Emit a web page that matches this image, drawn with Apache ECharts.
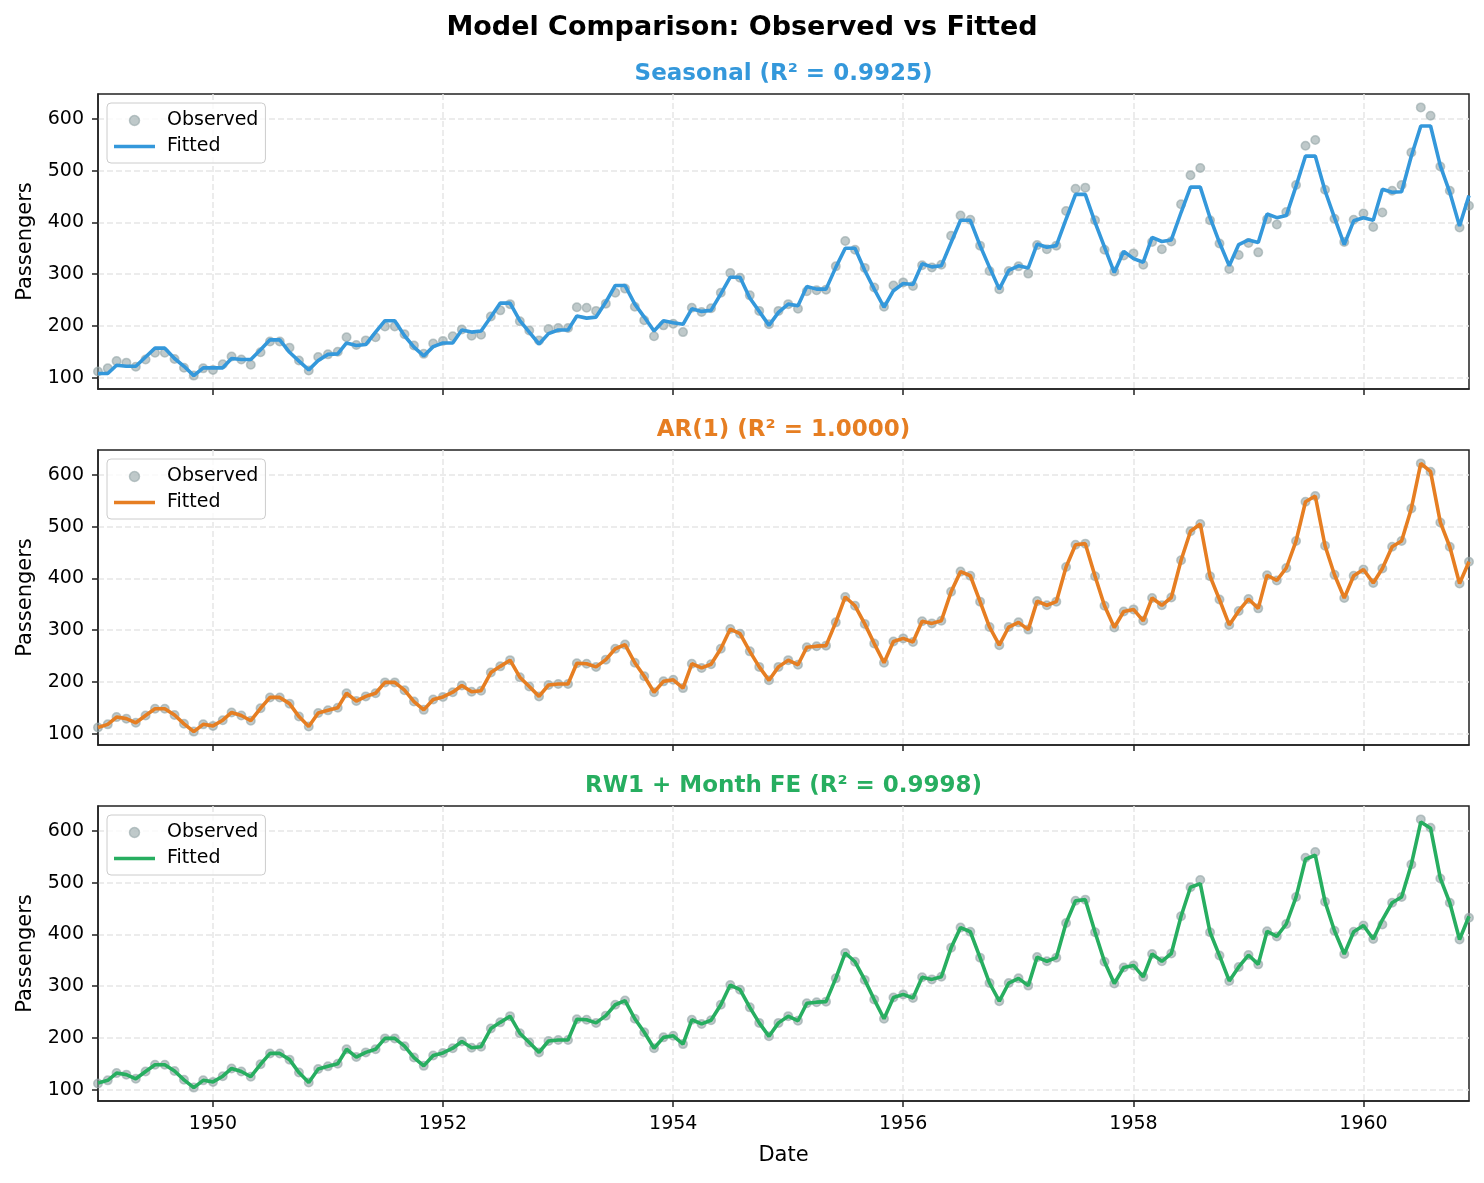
<!DOCTYPE html>
<html><head><meta charset="utf-8">
<script src="https://cdn.jsdelivr.net/npm/echarts@6/dist/echarts.min.js"></script>
<style>html,body{margin:0;padding:0;background:#fff}#c{width:1484px;height:1183px}</style>
</head><body><div id="c"></div>
<script>
const startYear = 1949;
const observed = [
112,118,132,129,121,135,148,148,136,119,104,118,
115,126,141,135,125,149,170,170,158,133,114,140,
145,150,178,163,172,178,199,199,184,162,146,166,
171,180,193,181,183,218,230,242,209,191,172,194,
196,196,236,235,229,243,264,272,237,211,180,201,
204,188,235,227,234,264,302,293,259,229,203,229,
242,233,267,269,270,315,364,347,312,274,237,278,
284,277,317,313,318,374,413,405,355,306,271,306,
315,301,356,348,355,422,465,467,404,347,305,336,
340,318,362,348,363,435,491,505,404,359,310,337,
360,342,406,396,420,472,548,559,463,407,362,405,
417,391,419,461,472,535,622,606,508,461,390,432];
const seasonalFitted = [
108,108,124,122,122,140,157,157,137,122,104,119,
119,119,137,135,135,154,173,173,149,132,115,133,
145,146,167,162,164,188,210,210,181,159,142,160,
167,167,192,188,190,217,244,244,210,188,165,185,
192,192,219,215,217,246,278,278,242,217,190,210,
206,203,233,228,230,262,294,294,254,228,201,226,
242,239,276,271,271,313,350,350,307,271,236,268,
282,280,320,314,316,361,404,404,355,313,271,307,
316,312,358,352,355,406,454,454,400,352,303,344,
330,323,371,363,366,419,468,468,409,361,316,357,
366,361,416,409,413,470,528,528,461,409,357,403,
409,404,464,458,459,528,586,586,509,458,393,452];
const ar1Fitted = [
112,118,132,129,121,135,148,148,136,119,104,118,
115,126,141,135,125,149,170,170,158,133,114,140,
145,150,178,163,172,178,199,199,184,162,146,166,
171,180,193,181,183,218,230,242,209,191,172,194,
196,196,236,235,229,243,264,272,237,211,180,201,
204,188,235,227,234,264,302,293,259,229,203,229,
242,233,267,269,270,315,364,347,312,274,237,278,
284,277,317,313,318,374,413,405,355,306,271,306,
315,301,356,348,355,422,465,467,404,347,305,336,
340,318,362,348,363,435,491,505,404,359,310,337,
360,342,406,396,420,472,548,559,463,407,362,405,
417,391,419,461,472,535,622,606,508,461,390,432];
const rw1Fitted = [
113,118,132,129,121,135,148,148,136,119,104,118,
115,126,141,135,125,149,170,170,158,133,114,140,
145,150,178,163,172,178,199,199,184,162,146,166,
171,180,193,181,183,218,230,242,209,191,172,194,
196,196,236,235,229,243,264,272,237,211,180,201,
204,188,235,227,234,264,302,293,259,229,203,229,
242,233,267,269,270,315,364,347,312,274,237,278,
284,277,317,313,318,374,413,405,355,306,271,306,
315,301,356,348,355,422,465,467,404,347,305,336,
340,318,362,348,363,435,491,498,404,359,310,337,
360,342,406,396,420,472,545,553,463,407,362,405,
417,391,428,461,472,535,617,605,508,461,390,435];
const panelTitles = ['Seasonal (R\u00b2 = 0.9925)', 'AR(1) (R\u00b2 = 1.0000)', 'RW1 + Month FE (R\u00b2 = 0.9998)'];
const panelColors = ['#3498db', '#e67e22', '#27ae60'];
const panelFits = [seasonalFitted, ar1Fitted, rw1Fitted];
const xTickYears = [1950, 1952, 1954, 1956, 1958, 1960];
const yTicks = [100, 200, 300, 400, 500, 600];

const FONT = 'DejaVu Sans';
const dates = observed.map((_, i) => Date.UTC(startYear + Math.floor(i / 12), i % 12, 1));
const xTickVals = xTickYears.map(y => Date.UTC(y, 0, 1));
const tops = [94, 450, 806];
const H = 295;
const gridLine = { show: true, lineStyle: { color: '#e6e6e6', width: 1.5, type: [6, 3] } };

const grids = [], xAxes = [], yAxes = [], series = [], legends = [];
const titles = [{
  text: 'Model Comparison: Observed vs Fitted', left: 'center', top: 14, padding: 0,
  textStyle: { fontFamily: FONT, fontSize: 27, fontWeight: 'bold', color: '#000' }
}];

for (let k = 0; k < 3; k++) {
  grids.push({ left: 98, right: 15, top: tops[k], height: H, show: true, borderColor: '#222', borderWidth: 1.5, backgroundColor: '#fff' });
  xAxes.push({
    type: 'value', gridIndex: k, min: dates[0], max: dates[dates.length - 1], scale: true,
    axisLine: { show: true, onZero: false, lineStyle: { color: '#222', width: 1.5 } },
    axisTick: { show: true, length: 6, lineStyle: { color: '#222', width: 1.5 }, customValues: xTickVals },
    axisLabel: { show: k === 2, customValues: xTickVals, margin: 14, fontFamily: FONT, fontSize: 19, color: '#000',
      formatter: v => String(new Date(v).getUTCFullYear()) },
    splitLine: gridLine,
    name: k === 2 ? 'Date' : '', nameLocation: 'middle', nameGap: 44,
    nameTextStyle: { fontFamily: FONT, fontSize: 21, color: '#000' }
  });
  yAxes.push({
    type: 'value', gridIndex: k, min: 78.1, max: 647.9,
    axisLine: { show: true, onZero: false, lineStyle: { color: '#222', width: 1.5 } },
    axisTick: { show: true, length: 6, lineStyle: { color: '#222', width: 1.5 }, customValues: yTicks },
    axisLabel: { customValues: yTicks, margin: 14, fontFamily: FONT, fontSize: 19, color: '#000' },
    splitLine: gridLine,
    name: 'Passengers', nameLocation: 'middle', nameGap: 62,
    nameTextStyle: { fontFamily: FONT, fontSize: 21, color: '#000' }
  });
  titles.push({
    text: panelTitles[k], left: 783.5, textAlign: 'center', top: tops[k] - 31, padding: 0,
    textStyle: { fontFamily: FONT, fontSize: 23, fontWeight: 'bold', color: panelColors[k] }
  });
  series.push({
    name: 'Observed', type: 'scatter', xAxisIndex: k, yAxisIndex: k,
    data: dates.map((d, i) => [d, observed[i]]),
    symbol: 'circle', symbolSize: 8.5, z: 2,
    itemStyle: { color: '#95a5a6', borderColor: '#95a5a6', borderWidth: 1.5, opacity: 0.6 }
  });
  series.push({
    name: 'Fitted', type: 'line', xAxisIndex: k, yAxisIndex: k,
    data: dates.map((d, i) => [d, panelFits[k][i]]),
    showSymbol: false, symbol: 'none', z: 3,
    itemStyle: { color: panelColors[k] },
    lineStyle: { color: panelColors[k], width: 3.6 }
  });
  legends.push({
    orient: 'vertical', left: 107, top: tops[k] + 9, padding: [8, 7, 7, 7],
    itemWidth: 41, itemHeight: 10, itemGap: 7,
    borderColor: '#cccccc', borderWidth: 1, borderRadius: 4, backgroundColor: 'rgba(255,255,255,0.8)',
    textStyle: { fontFamily: FONT, fontSize: 19, color: '#000', padding: [0, 0, 0, 7] },
    selectedMode: false,
    data: [
      { name: 'Observed', icon: 'circle', itemStyle: { color: '#95a5a6', borderColor: '#95a5a6', borderWidth: 1.5, opacity: 0.6 } },
      { name: 'Fitted', icon: 'path://M0 0H41V3.6H0Z', itemStyle: { color: panelColors[k], borderWidth: 0 } }
    ]
  });
}

const chart = echarts.init(document.getElementById('c'), null, { renderer: 'canvas' });
chart.setOption({
  animation: false, backgroundColor: '#fff',
  title: titles, grid: grids, xAxis: xAxes, yAxis: yAxes, series: series, legend: legends
});
</script></body></html>
